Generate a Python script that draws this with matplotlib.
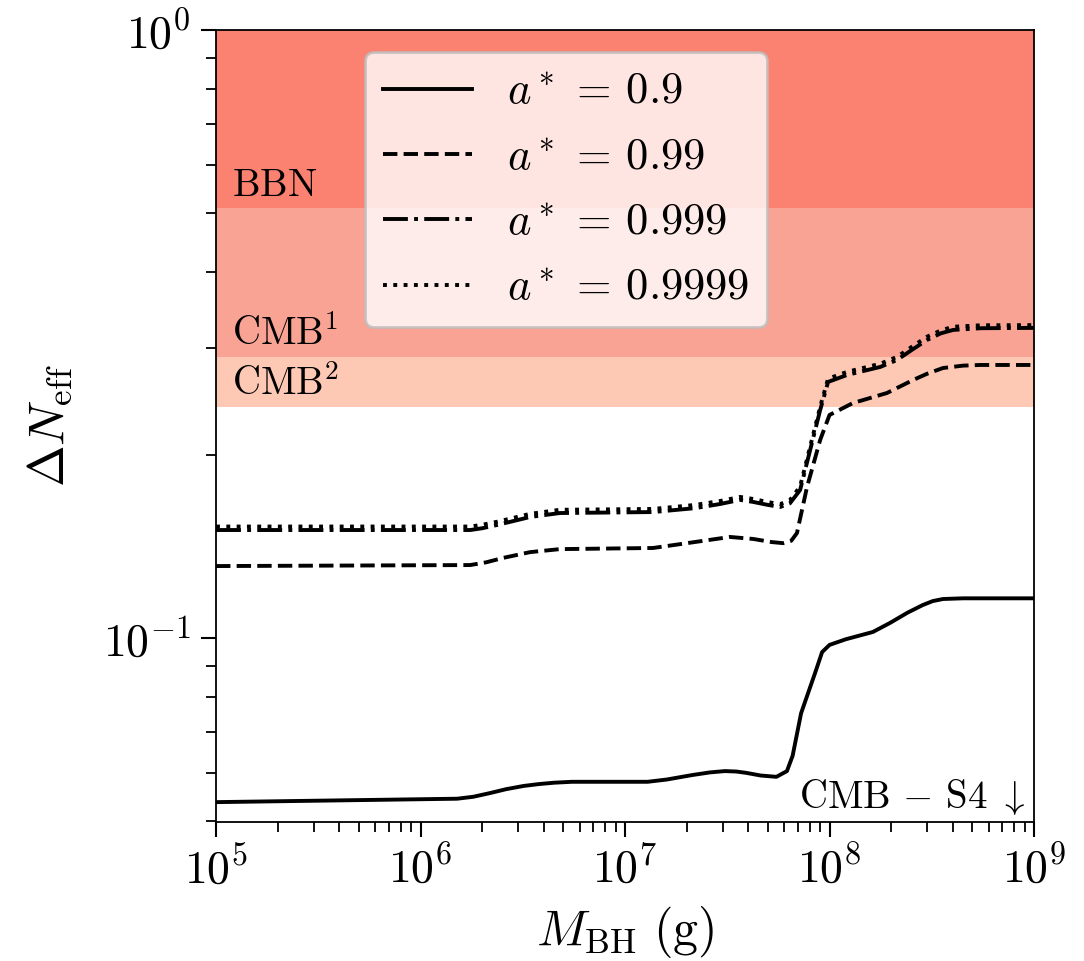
import numpy as np
import matplotlib
matplotlib.use("Agg")
import matplotlib.pyplot as plt
from matplotlib.ticker import FuncFormatter, LogLocator, NullFormatter

plt.rcParams['mathtext.fontset'] = 'cm'
plt.rcParams['font.family'] = 'serif'

# black hole mass (g) and Delta N_eff
m_09 = [1e5, 1.51e6, 1.81e6, 2.2e6, 2.62e6, 3.2e6, 3.79e6, 4.5e6, 5.5e6, 1.29e7, 1.6e7,
        2.13e7, 2.6e7, 3.08e7, 3.5e7, 3.91e7, 4.6e7, 5.5e7, 6.19e7, 6.6e7, 7.26e7, 8.5e7,
        9.2e7, 1.0e8, 1.2e8, 1.63e8, 1.98e8, 2.4e8, 2.86e8, 3.2e8, 3.59e8, 4.5e8, 1e9]
n_09 = [0.0537, 0.0544, 0.0548, 0.0556, 0.0564, 0.0571, 0.0575, 0.0578, 0.0580, 0.0580, 0.0585,
        0.0595, 0.0601, 0.0604, 0.0603, 0.0600, 0.0594, 0.0591, 0.0604, 0.0640, 0.0752, 0.0876,
        0.0948, 0.0974, 0.0995, 0.1023, 0.1059, 0.1100, 0.1133, 0.1150, 0.1159, 0.1162, 0.1162]

m_099 = [1e5, 1.75e6, 2.1e6, 2.53e6, 3.43e6, 4.8e6, 1.37e7, 2.01e7, 2.6e7, 3.26e7, 4.23e7,
         5.2e7, 5.93e7, 6.5e7, 6.93e7, 7.76e7, 9.0e7, 1.0e8, 1.3e8, 1.91e8, 2.56e8, 3.0e8,
         3.59e8, 4.5e8, 5.45e8, 1e9]
n_099 = [0.1313, 0.1318, 0.1332, 0.1354, 0.1384, 0.1400, 0.1406, 0.1432, 0.1450, 0.1466, 0.1455,
         0.1438, 0.1432, 0.1445, 0.1488, 0.1771, 0.2117, 0.2327, 0.2434, 0.2529, 0.2656, 0.2720,
         0.2780, 0.2805, 0.2812, 0.2812]

m_0999 = [1e5, 1.75e6, 2.0e6, 2.37e6, 3.43e6, 4.8e6, 1.37e7, 2.2e7, 2.92e7, 3.65e7, 4.23e7,
          5.0e7, 5.73e7, 6.4e7, 7.18e7, 8.04e7, 9.0e7, 9.84e7, 1.22e8, 1.77e8, 2.14e8, 2.5e8,
          3.0e8, 3.5e8, 4.02e8, 5.5e8, 1e9]
n_0999 = [0.1505, 0.1505, 0.1515, 0.1534, 0.1581, 0.1605, 0.1611, 0.1635, 0.1661, 0.1687, 0.1674,
          0.1655, 0.1642, 0.1665, 0.1751, 0.2038, 0.2371, 0.2637, 0.2708, 0.2791, 0.2866, 0.2970,
          0.3092, 0.3170, 0.3211, 0.3232, 0.3236]

m_09999 = m_0999
n_09999 = [0.1525, 0.1525, 0.1535, 0.1553, 0.1600, 0.1625, 0.1630, 0.1655, 0.1680, 0.1706, 0.1693,
           0.1673, 0.1660, 0.1685, 0.1775, 0.2065, 0.2400, 0.2670, 0.2740, 0.2825, 0.2900, 0.3005,
           0.3130, 0.3205, 0.3250, 0.3268, 0.3270]

# constraint bands (lower edge, upper edge)
bands = {'BBN': (0.51, 1.0), 'CMB1': (0.29, 0.51), 'CMB2': (0.24, 0.29)}
band_colors = {'BBN': '#fb8270', 'CMB1': '#f9a395', 'CMB2': '#fdc9b4'}
band_labels = {'BBN': r'$\mathrm{BBN}$', 'CMB1': r'$\mathrm{CMB}^1$', 'CMB2': r'$\mathrm{CMB}^2$'}

fig = plt.figure(figsize=(10.84, 9.61), dpi=100)
ax = fig.add_axes([0.1993, 0.1446, 0.7546, 0.8242])
ax.set_xscale('log')
ax.set_yscale('log')
ax.set_xlim(1e5, 1e9)
ax.set_ylim(0.0498, 1.0)

for k in bands:
    lo, hi = bands[k]
    ax.axhspan(lo, hi, color=band_colors[k], lw=0, zorder=0)
    ax.text(1.2e5, lo * 1.015, band_labels[k], fontsize=28, va='bottom', ha='left')

lw = 2.8
ax.plot(m_09, n_09, 'k-', lw=lw, label=r'$a^*\,=\,0.9$')
ax.plot(m_099, n_099, 'k--', lw=lw, label=r'$a^*\,=\,0.99$')
ax.plot(m_0999, n_0999, 'k-.', lw=lw, label=r'$a^*\,=\,0.999$')
ax.plot(m_09999, n_09999, 'k:', lw=lw, label=r'$a^*\,=\,0.9999$')

ax.text(0.989, 0.006, r'$\mathrm{CMB}\,-\,\mathrm{S4}\ \downarrow$', transform=ax.transAxes,
        fontsize=28, ha='right', va='bottom')

leg = ax.legend(loc='upper left', bbox_to_anchor=(0.182, 0.972), borderaxespad=0,
                fontsize=32, fancybox=True, framealpha=0.8, facecolor='white',
                edgecolor='#bdbdbd', handlelength=2.0, labelspacing=0.5)
leg.get_frame().set_linewidth(2)

fmt = FuncFormatter(lambda v, p: r'$10^{%d}$' % int(round(np.log10(v))))
ax.xaxis.set_major_formatter(fmt)
ax.yaxis.set_major_formatter(fmt)
ax.xaxis.set_major_locator(LogLocator(base=10, numticks=10))
ax.xaxis.set_minor_locator(LogLocator(base=10, subs=np.arange(2, 10), numticks=50))
ax.xaxis.set_minor_formatter(NullFormatter())
ax.yaxis.set_minor_formatter(NullFormatter())
ax.tick_params(which='major', labelsize=33, length=11, width=1.5, pad=7)
ax.tick_params(which='minor', length=7, width=1.3)
for s in ax.spines.values():
    s.set_linewidth(1.3)

ax.set_xlabel(r'$M_{\rm BH}\ (\mathrm{g})$', fontsize=36, labelpad=8)
ax.set_ylabel(r'$\Delta N_{\rm eff}$', fontsize=36, labelpad=20)

fig.savefig('out.png', dpi=100)
